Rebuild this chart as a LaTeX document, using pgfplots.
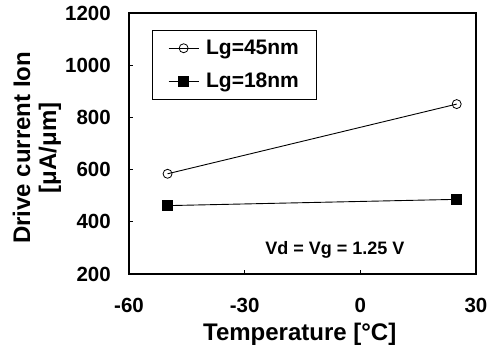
\documentclass[border=0pt]{standalone}
\usepackage{fontspec}
\setmainfont{Liberation Sans}
\usepackage{pgfplots}
\pgfplotsset{compat=1.18}
\begin{document}
\begin{tikzpicture}
\useasboundingbox (-129pt,-75pt) rectangle (359pt,274pt);
\begin{axis}[
  scale only axis, width=347pt, height=261pt,
  xmin=-60, xmax=30, ymin=200, ymax=1200,
  xtick={-60,-30,0,30}, ytick={200,400,...,1200},
  tick align=inside, xtick pos=bottom, ytick pos=left,
  major tick length=4pt,
  tick style={line width=0.8pt, black},
  axis line style={line width=2.5pt},
  /pgf/number format/assume math mode=true,
  /pgf/number format/1000 sep={},
  ticklabel style={font=\bfseries\fontsize{20.5}{20.5}\selectfont},
  yticklabel style={inner sep=0pt, anchor=east, xshift=-18pt},
  xticklabel style={inner sep=0pt, anchor=north, yshift=-24pt},
  xlabel={Temperature [°C]},
  ylabel={Drive current Ion\\{}[μA/μm]},
  label style={font=\bfseries\fontsize{24}{26}\selectfont},
  xlabel style={at={(axis description cs:0.492,-0.253)}, anchor=base},
  ylabel style={at={(axis description cs:-0.265,0.484)}, anchor=center, align=center},
  legend style={at={(axis description cs:0.066,0.935)}, anchor=north west,
    draw=black, line width=0.6pt,
    font=\bfseries\fontsize{21}{21}\selectfont,
    inner xsep=16pt, inner ysep=9pt, row sep=15pt,
    nodes={inner sep=1pt},
    /tikz/every odd column/.append style={column sep=6pt}},
  legend cell align=left,
  legend image code/.code={\draw[mark repeat=2,mark phase=2] plot coordinates {(0pt,0pt) (15pt,0pt) (30pt,0pt)};},
]
\addplot[black, line width=0.9pt, mark=o, mark size=4.5pt, mark options={fill=white, line width=0.8pt}]
  coordinates {(-50,584) (25,851)};
\addlegendentry{Lg=45nm}
\addplot[black, line width=0.9pt, mark=square*, mark size=5pt]
  coordinates {(-50,462) (25,486)};
\addlegendentry{Lg=18nm}
\node[font=\bfseries\fontsize{18}{18}\selectfont] at (axis cs:-6.6,292) {Vd = Vg = 1.25 V};
\end{axis}
\end{tikzpicture}
\end{document}
